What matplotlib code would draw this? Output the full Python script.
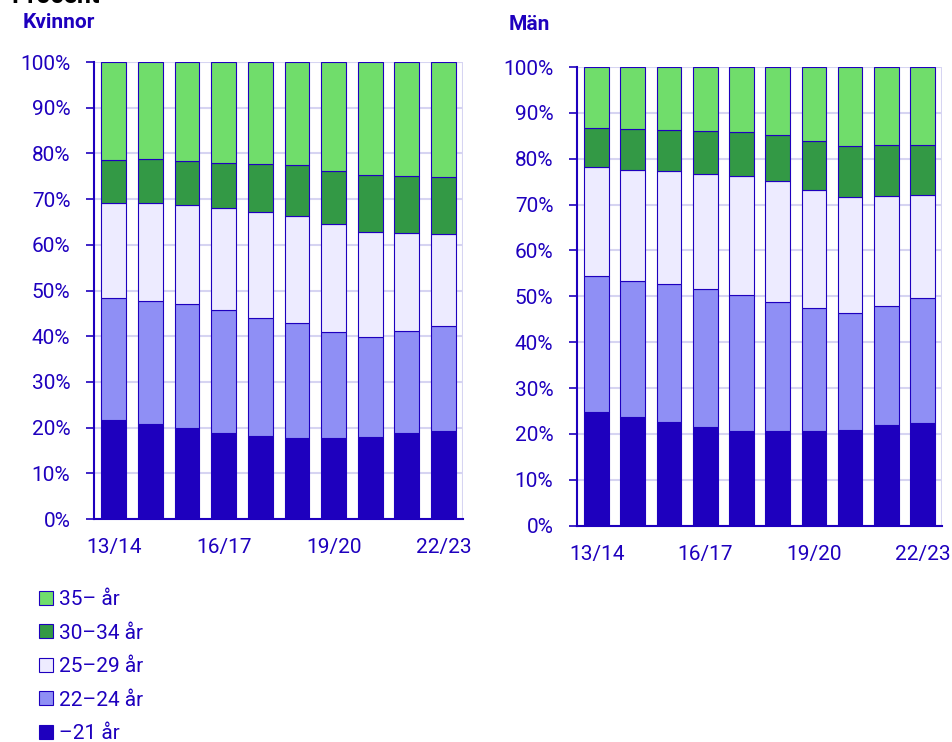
import matplotlib.pyplot as plt
import numpy as np
from matplotlib.patches import Patch

plt.rcParams['font.family'] = ['Roboto', 'DejaVu Sans']

years = ["13/14", "14/15", "15/16", "16/17", "17/18", "18/19", "19/20", "20/21", "21/22", "22/23"]
shown_ticks = [0, 3, 6, 9]
groups = ["\u201321 år", "22\u201324 år", "25\u201329 år", "30\u201334 år", "35\u2013 år"]
colors = ["#1E00BE", "#8F8FF5", "#EDEBFF", "#339945", "#70DD6B"]

# cumulative tops (%)
kv_21 = [21.7, 20.9, 20.0, 18.8, 18.1, 17.7, 17.7, 17.9, 18.8, 19.3]
kv_24 = [48.3, 47.7, 47.0, 45.7, 44.0, 42.8, 41.0, 39.9, 41.1, 42.2]
kv_29 = [69.1, 69.1, 68.7, 68.1, 67.2, 66.2, 64.5, 62.8, 62.5, 62.4]
kv_34 = [78.5, 78.7, 78.3, 78.0, 77.7, 77.5, 76.1, 75.3, 75.0, 74.8]

man_21 = [24.7, 23.8, 22.6, 21.5, 20.7, 20.6, 20.7, 20.9, 22.0, 22.4]
man_24 = [54.4, 53.4, 52.7, 51.5, 50.2, 48.8, 47.4, 46.3, 48.0, 49.6]
man_29 = [78.1, 77.5, 77.4, 76.7, 76.3, 75.1, 73.2, 71.7, 71.9, 72.0]
man_34 = [86.7, 86.5, 86.2, 86.0, 85.8, 85.2, 83.9, 82.8, 82.9, 82.9]

TXT = "#1E00BE"
GRID = "#D6D4F2"


def draw(ax, tops, title, title_x, title_y):
    x = np.arange(len(years))
    bounds = [np.zeros(len(years))] + [np.array(t) for t in tops] + [np.full(len(years), 100.0)]
    for i in range(5):
        ax.bar(x, bounds[i + 1] - bounds[i], bottom=bounds[i], width=0.68,
               color=colors[i], edgecolor=TXT, linewidth=0.8, zorder=3)
    ax.set_xlim(-0.54, 9.53)
    ax.set_ylim(0, 100)
    ax.set_yticks(range(0, 101, 10))
    ax.set_yticklabels([f"{v}%" for v in range(0, 101, 10)])
    ax.set_xticks(shown_ticks)
    ax.set_xticklabels([years[i] for i in shown_ticks])
    ax.tick_params(axis='y', colors=TXT, labelsize=15, length=6, width=1.2, pad=11)
    ax.tick_params(axis='x', colors=TXT, labelsize=15, length=0, pad=14)
    ax.grid(axis='y', color=GRID, linewidth=1.5, zorder=0)
    ax.axvline(9.53, color=GRID, linewidth=1.5, zorder=0)
    for s in ['top', 'right']:
        ax.spines[s].set_visible(False)
    for s in ['left', 'bottom']:
        ax.spines[s].set_color(TXT)
        ax.spines[s].set_linewidth(1.5)
    fig.text(title_x, title_y, title, color=TXT, fontsize=15, fontweight='bold', va='center')


fig = plt.figure(figsize=(9.52, 7.42), dpi=100)
ax1 = fig.add_axes([0.0987, 0.3005, 0.3876, 0.6159])
ax2 = fig.add_axes([0.6061, 0.2915, 0.3831, 0.6182])

draw(ax1, [kv_21, kv_24, kv_29, kv_34], "Kvinnor", 0.024, 1 - 22 / 742)
draw(ax2, [man_21, man_24, man_29, man_34], "Män", 0.534, 1 - 24 / 742)

fig.text(0.012, 1 - 3 / 742, "Procent", color="black", fontsize=18, fontweight='bold', va='baseline')

handles = [Patch(facecolor=colors[i], edgecolor=TXT, linewidth=0.8) for i in range(4, -1, -1)]
labels = [groups[i] for i in range(4, -1, -1)]
fig.legend(handles, labels, loc='upper left', bbox_to_anchor=(0.041, 1 - 590 / 742),
           frameon=False, fontsize=15, labelcolor=TXT, handlelength=0.65, handleheight=0.65,
           handletextpad=0.3, labelspacing=0.7, borderaxespad=0, borderpad=0)

fig.savefig("out.png", dpi=100)
